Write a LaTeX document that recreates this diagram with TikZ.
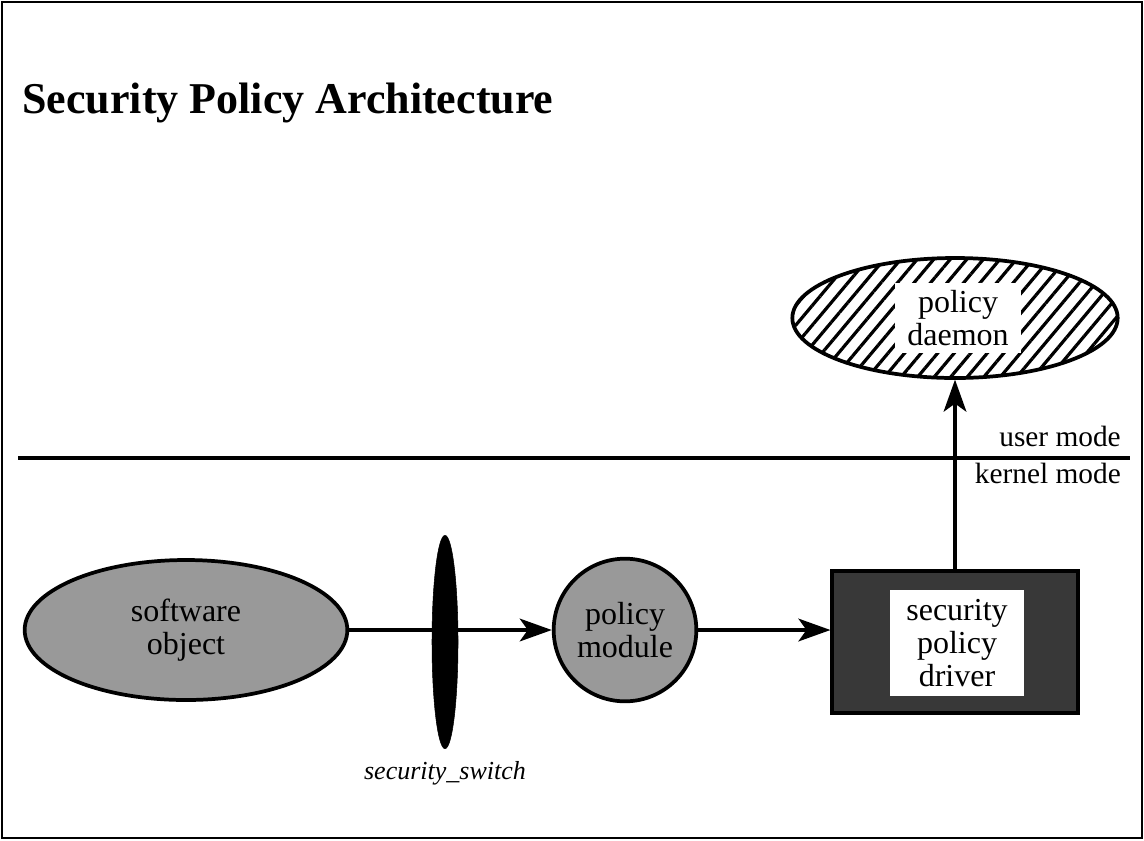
\documentclass[tikz,border=0pt]{standalone}
\usepackage{fontspec}
\setmainfont{Liberation Serif}
\usetikzlibrary{shapes.geometric,arrows.meta,patterns.meta}
\begin{document}
\begin{tikzpicture}[x=0.75pt,y=-0.75pt,
  lab/.style={font=\fontsize{24}{25}\selectfont, align=center, inner sep=0pt},
  modelab/.style={font=\fontsize{22}{25}\selectfont, inner sep=0pt},
  obj/.style={draw=black, line width=2.8pt},
  conn/.style={line width=2.8pt, -{Stealth[length=24pt,width=17pt,inset=6pt]}},
  whitebox/.style={fill=white, draw=none, inner sep=0pt}]
\useasboundingbox (0,0) rectangle (1144,840);
\draw[line width=1.5pt] (2,2) rectangle (1142,838);
\node[anchor=base west, inner sep=0pt, font=\fontsize{33}{38}\selectfont\bfseries] (title) at (22,113) {Security Policy Architecture};
% mode separator
\coordinate (ml) at (18,458);
\coordinate (mr) at (1130,458);
\draw[line width=3.3pt] (ml) -- (mr);
\node[modelab, anchor=base east] (user) at (1121,446) {user mode};
\node[modelab, anchor=base east] (kernel) at (1121,483) {kernel mode};
% nodes
\node[obj, ellipse, fill=black!40, minimum width=242pt, minimum height=105pt, inner sep=0pt] (sw) at (186,630) {};
\node[lab] (swt) at (186,630) {software\\object};
\node[obj, circle, fill=black!40, minimum size=107pt, inner sep=0pt] (pm) at (625,630) {};
\node[lab] (pmt) at (625,630) {policy\\module};
\node[obj, rectangle, fill=black!78, minimum width=184pt, minimum height=106pt, inner sep=0pt] (drv) at (955,642) {};
\node[whitebox, minimum width=100pt, minimum height=80pt] (drvin) at (957,643) {};
\node[lab] (drvt) at (957,643) {security\\policy\\driver};
\node[obj, ellipse, pattern={Lines[angle=50,distance=9.5pt,line width=2.4pt]}, minimum width=244pt, minimum height=90pt, inner sep=0pt] (pd) at (955,318) {};
\node[whitebox, minimum width=94pt, minimum height=52pt] (pdin) at (958,318) {};
\node[lab] (pdt) at (958,318) {policy\\daemon};
% connectors
\draw[conn] (sw.east) -- (pm.west);
\draw[conn] (pm.east) -- (pm.east -| drv.west);
\draw[conn] (drv.north) -- (pd.south);
% switch
\node[ellipse, fill=black, draw=black, minimum width=19.5pt, minimum height=160pt, inner sep=0pt] (sws) at (445,642) {};
\node[font=\fontsize{19.5}{23}\selectfont\itshape, inner sep=0pt] (swl) at (445,773) {security\_switch};
\end{tikzpicture}
\end{document}
